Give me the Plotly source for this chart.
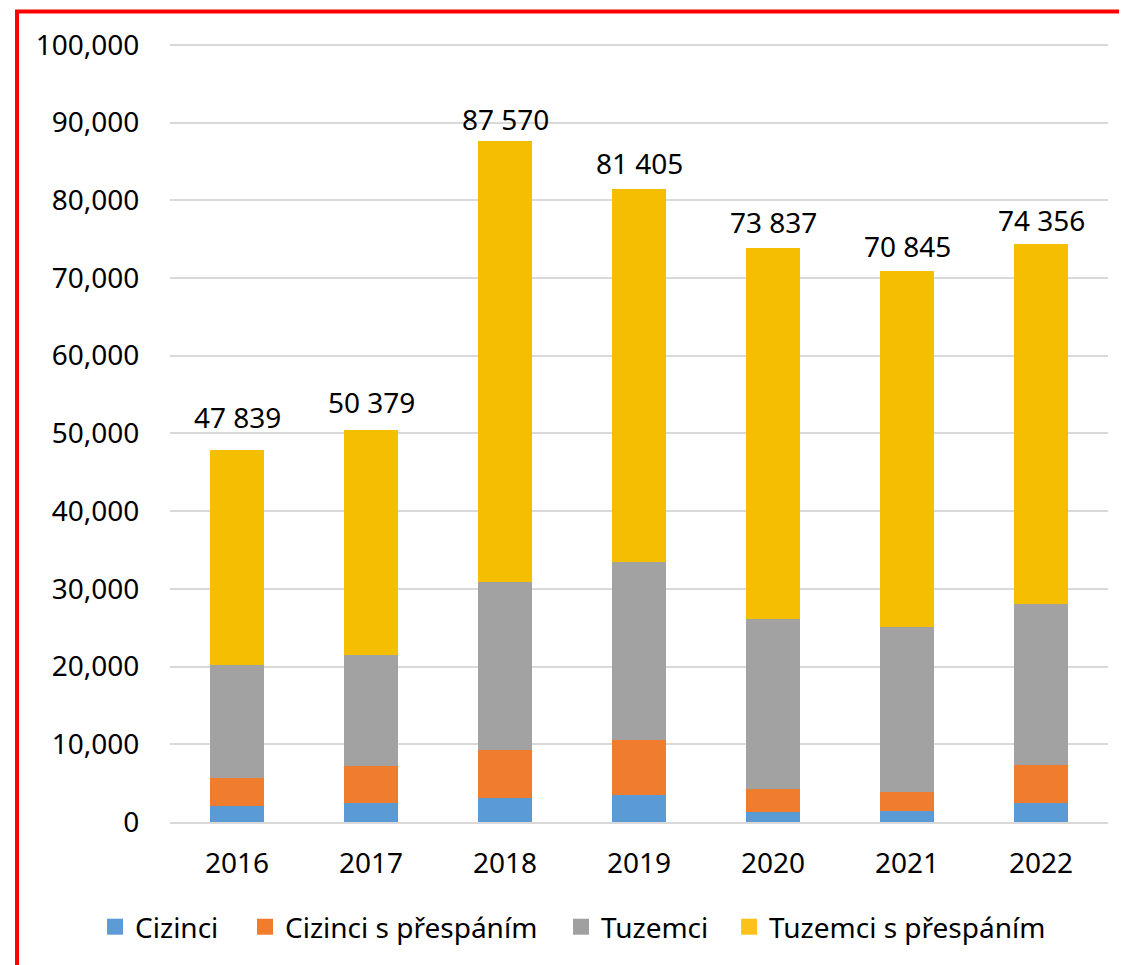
import plotly.graph_objects as go

years = ["2016", "2017", "2018", "2019", "2020", "2021", "2022"]
cizinci = [2100, 2450, 3100, 3500, 1300, 1400, 2450]
cizinci_presp = [3600, 4780, 6200, 7100, 2950, 2470, 4900]
tuzemci = [14450, 14200, 21550, 22850, 21850, 21200, 20650]
totals = [47839, 50379, 87570, 81405, 73837, 70845, 74356]
tuzemci_presp = [t - a - b - c for t, a, b, c in zip(totals, cizinci, cizinci_presp, tuzemci)]

series = [
    ("Cizinci", cizinci, "#5B9BD5", "#5C9BD6"),
    ("Cizinci s přespáním", cizinci_presp, "#F07C2E", "#F07C2E"),
    ("Tuzemci", tuzemci, "#A2A2A2", "#A0A0A0"),
    ("Tuzemci s přespáním", tuzemci_presp, "#F5BF00", "#FDC21A"),
]
legend_names = ["legend", "legend2", "legend3", "legend4"]
legend_x = [0.0778, 0.2118, 0.4942, 0.6444]
label_shift = [12, 7, 1, 5, 5, 4, 3]

FONT = "Noto Sans"
W, H = 1119, 957
fig = go.Figure()
for (name, vals, col, lcol), lg in zip(series, legend_names):
    fig.add_trace(go.Bar(x=years, y=vals, name=name, showlegend=False,
                         marker=dict(color=col, line=dict(width=0))))
    fig.add_trace(go.Scatter(x=[None], y=[None], mode="markers", name=name, legend=lg,
                             marker=dict(symbol="square", size=18, color=lcol)))

for i, (tot, ys) in enumerate(zip(totals, label_shift)):
    fig.add_annotation(x=i, y=tot, text=f"{tot:,}".replace(",", " "), showarrow=False,
                       yanchor="bottom", yshift=ys, font=dict(family=FONT, size=28, color="#000"))

# red frame (left and top edges visible)
fig.add_shape(type="rect", xref="paper", yref="paper", x0=-0.1631, x1=1.2, y0=-0.3, y1=1.0325,
              line=dict(color="#FF0000", width=4), layer="above")

leg_common = dict(orientation="h", xref="container", yref="container", y=0.0397,
                  xanchor="left", yanchor="middle", font=dict(family=FONT, size=28, color="#000"),
                  bgcolor="rgba(0,0,0,0)")
layout_legends = {lg: dict(leg_common, x=lx) for lg, lx in zip(legend_names, legend_x)}

fig.update_layout(
    width=W, height=H,
    margin=dict(l=162, r=19, t=29, b=143, autoexpand=False),
    barmode="stack", bargap=0.6,
    plot_bgcolor="white", paper_bgcolor="white",
    font=dict(family=FONT, size=28, color="#000"),
    showlegend=True,
    **layout_legends,
)
fig.update_yaxes(range=[0, 101000], dtick=10000, tickformat=",d", showgrid=True,
                 gridcolor="#D9D9D9", gridwidth=1.5, zeroline=False, showline=False,
                 ticks="outside", ticklen=24, tickcolor="rgba(0,0,0,0)")
fig.update_xaxes(type="category", range=[-0.5, 6.5], showline=True, linecolor="#D9D9D9",
                 linewidth=1.5, ticks="outside", ticklen=16, tickcolor="rgba(0,0,0,0)")

fig.write_html("out.html")
